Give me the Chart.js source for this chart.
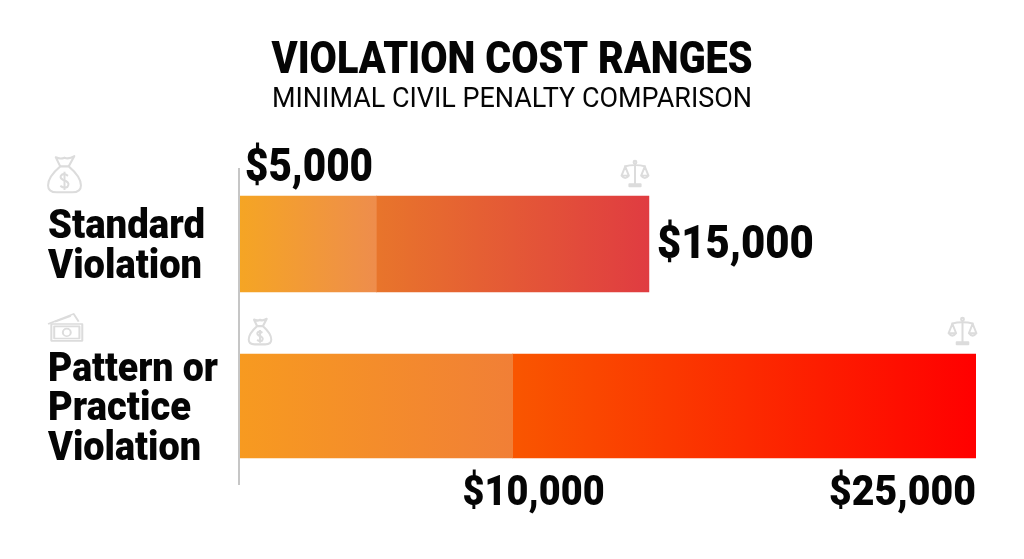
<!DOCTYPE html>
<html>
<head>
<meta charset="utf-8">
<title>Violation Cost Ranges</title>
<script src="https://cdn.jsdelivr.net/npm/chart.js@4"></script>
<style>
  html, body { margin: 0; padding: 0; background: #fff; }
  canvas { display: block; }
</style>
</head>
<body>
<canvas id="chart" width="1024" height="559"></canvas>
<script>
const chartTitle    = 'VIOLATION COST RANGES';
const chartSubtitle = 'MINIMAL CIVIL PENALTY COMPARISON';
const categories    = [['Standard', 'Violation'], ['Pattern or', 'Practice', 'Violation']];
const rangeMin      = [5000, 10000];
const rangeMax      = [15000, 25000];
// The second bar is drawn longer than its $25,000 label
const barEnd        = [15000, 27000];

// ── Helpers ──────────────────────────────────────────────────────────────

const money = v => '$' + v.toLocaleString('en-US');

function gradient(chart, from, to, c1, c2) {
  const x = chart.scales.x;
  if (!x || !chart.chartArea) return c1;
  const g = chart.ctx.createLinearGradient(x.getPixelForValue(from), 0, x.getPixelForValue(to), 0);
  g.addColorStop(0, c1);
  g.addColorStop(1, c2);
  return g;
}

// One row only, the other row stays empty, so each row can have its own thickness
function segment(row, from, to, thickness, c1, c2) {
  const data = categories.map((_, i) => (i === row ? [from, to] : null));
  return {
    data,
    grouped: false,
    barPercentage: 1,
    maxBarThickness: thickness,
    inflateAmount: 0.35,   // hides the seam between the two segments
    backgroundColor: c => gradient(c.chart, from, to, c1, c2),
  };
}

// The reference font is condensed, so text is squeezed to the width it has there
function text(ctx, str, x, y, font, width, align) {
  ctx.save();
  ctx.font = font;
  ctx.fillStyle = '#050505';
  ctx.textBaseline = 'alphabetic';
  ctx.textAlign = 'left';
  const sx = width / ctx.measureText(str).width;
  const left = align === 'right' ? x - width : align === 'center' ? x - width / 2 : x;
  ctx.translate(left, y);
  ctx.scale(sx, 1);
  ctx.fillText(str, 0, 0);
  ctx.restore();
}

// ── Icons, in a 100 x 100 box ────────────────────────────────────────────

const bagIcon = [
  'M38 30 C15 48 3 65 3 80 C3 93 15 98 28 98 L72 98 C85 98 97 93 97 80 C97 65 85 48 62 30 Z',
  'M38 30 L25 6 Q38 12 50 7 Q62 12 78 3 L62 30',
  'M60 55 Q50 48 42 52 Q34 58 45 65 L55 69 Q66 75 58 84 Q48 88 38 81',
  'M50 44 L50 92',
];
const scalesIcon = [
  'M50 12 L50 88 M30 90 L70 90 L70 97 L30 97 Z',
  'M12 24 Q50 14 88 24',
  'M15 24 L2 58 Q15 76 28 58 Z M2 58 L28 58',
  'M85 24 L72 58 Q85 76 98 58 Z M72 58 L98 58',
  'M55 8 A5 5 0 1 1 45 8 A5 5 0 1 1 55 8',
];
const cashIcon = [
  'M3 38 L74 3 L88 30',
  'M22 30 L66 10',
  'M12 38 L98 38 L98 96 L12 96 Z',
  'M20 46 L90 46 L90 88 L20 88 Z',
  'M66 67 A11 13 0 1 1 44 67 A11 13 0 1 1 66 67',
];

function icon(ctx, paths, x, y, w, h) {
  ctx.save();
  ctx.translate(x, y);
  ctx.scale(w / 100, h / 100);
  ctx.strokeStyle = '#dcdcdc';
  ctx.lineWidth = 2 * 100 / w;
  ctx.lineJoin = 'round';
  paths.forEach(p => ctx.stroke(new Path2D(p)));
  ctx.restore();
}

// ── Everything around the bars ───────────────────────────────────────────

const decorations = {
  id: 'decorations',
  afterDatasetsDraw(chart) {
    const { ctx, scales: { x, y } } = chart;

    text(ctx, chartTitle, 512, 73, '900 44px Roboto', 481, 'center');
    text(ctx, chartSubtitle, 512, 107, '28px Roboto', 480, 'center');

    // Axis line
    ctx.fillStyle = '#c6c6c6';
    ctx.fillRect(238, 168, 2, 317);

    // Category names
    const names = [[157, 154], [170, 143, 153]];
    categories.forEach((lines, i) => {
      const mid = y.getPixelForValue(i);
      lines.forEach((line, j) => {
        const base = mid + (j - (lines.length - 1) / 2) * 39.5 + 14;
        text(ctx, line, 48, base, '900 41px Roboto', names[i][j]);
      });
    });

    // Range labels
    text(ctx, money(rangeMin[0]), x.getPixelForValue(0) + 5, 181, '900 46px Roboto', 128);
    text(ctx, money(rangeMax[0]), x.getPixelForValue(barEnd[0]) + 8, 258, '900 46px Roboto', 157);
    text(ctx, money(rangeMin[1]), x.getPixelForValue(rangeMin[1]) + 21, 505, '900 43px Roboto', 142, 'center');
    text(ctx, money(rangeMax[1]), x.getPixelForValue(barEnd[1]), 505, '900 43px Roboto', 147, 'right');

    icon(ctx, bagIcon, 47, 155, 35, 38);
    icon(ctx, cashIcon, 47, 313, 36, 29);
    icon(ctx, bagIcon, 248, 318, 24, 27);
    icon(ctx, scalesIcon, 621, 160, 28, 27);
    icon(ctx, scalesIcon, 948, 317, 29, 28);
  },
};

// ── Chart ────────────────────────────────────────────────────────────────

new Chart(document.getElementById('chart').getContext('2d'), {
  type: 'bar',
  data: {
    labels: categories,
    datasets: [
      segment(0, 0, rangeMin[0], 96, '#F5A524', '#EE8D4C'),
      segment(0, rangeMin[0], barEnd[0], 96, '#E8752B', '#E03C41'),
      segment(1, 0, rangeMin[1], 104, '#F79A20', '#F17F36'),
      segment(1, rangeMin[1], barEnd[1], 104, '#F95600', '#FF0000'),
    ],
  },
  options: {
    indexAxis: 'y',
    responsive: false,
    animation: false,
    layout: { padding: { left: 240, right: 48, top: 163, bottom: 72 } },
    scales: {
      x: { display: false, min: 0, max: barEnd[1] },
      y: { display: false },
    },
    plugins: {
      legend: { display: false },
      tooltip: { enabled: false },
    },
  },
  plugins: [decorations],
});
</script>
</body>
</html>
